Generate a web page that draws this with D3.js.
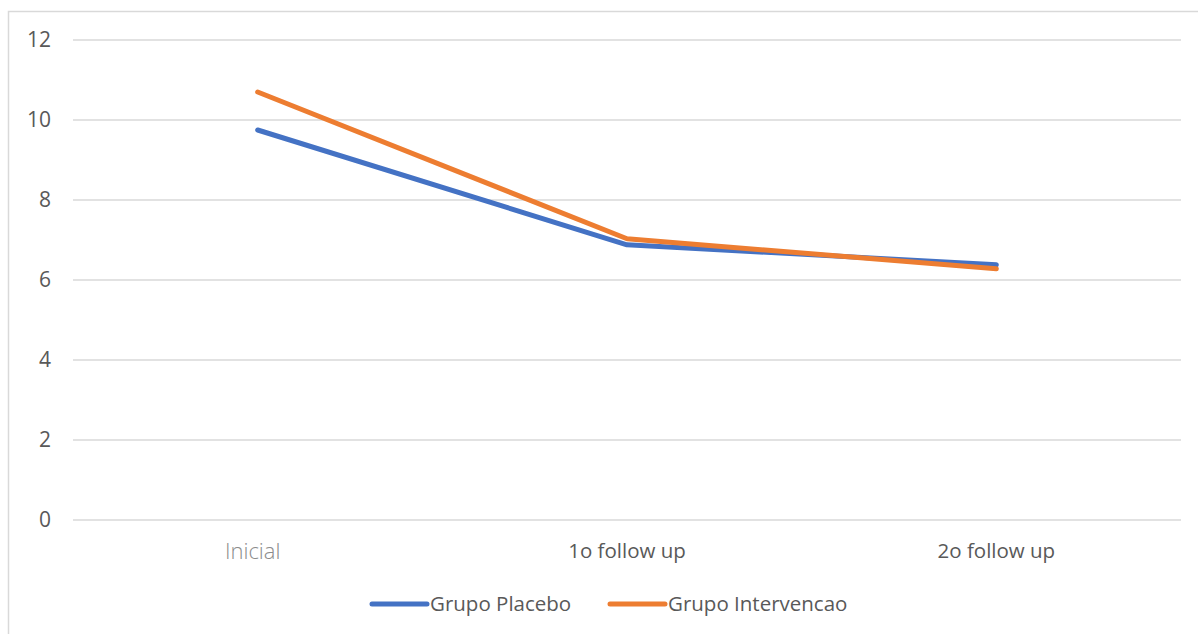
<!DOCTYPE html>
<html><head><meta charset="utf-8">
<script src="https://cdn.jsdelivr.net/npm/d3@7"></script>
<style>body{margin:0;background:#fff;}svg{display:block;}</style>
</head><body>
<svg id="c" width="1198" height="634"></svg>
<script>
const categories = ["Inicial", "1o follow up", "2o follow up"];
const placebo = [9.75, 6.88, 6.38];
const intervencao = [10.7, 7.03, 6.28];
const yTicks = [0, 2, 4, 6, 8, 10, 12];
const seriesNames = ["Grupo Placebo", "Grupo Intervencao"];
const colors = ["#4472C4", "#ED7D31"];

const svg = d3.select("#c");
const font = "'Open Sans', 'Noto Sans', sans-serif";
// chart border
svg.append("rect").attr("x", 8.5).attr("y", 11.5).attr("width", 1200).attr("height", 640)
  .attr("fill", "none").attr("stroke", "#d9d9d9").attr("stroke-width", 1.5);

const x = d3.scaleBand().domain(categories).range([73, 1181]);
const y = d3.scaleLinear().domain([0, 12]).range([520, 40]);

const grid = svg.append("g");
grid.selectAll("line").data(yTicks).join("line")
  .attr("x1", 73).attr("x2", 1181)
  .attr("y1", d => y(d)).attr("y2", d => y(d))
  .attr("stroke", "#d9d9d9").attr("stroke-width", 1.5);

const yAxis = svg.append("g").attr("transform", "translate(51,0)")
  .call(d3.axisLeft(y).tickValues(yTicks).tickSize(0).tickPadding(0));
yAxis.select(".domain").remove();
yAxis.selectAll("text").attr("font-family", font).attr("font-size", 21).attr("fill", "#595959");

const xAxis = svg.append("g").attr("transform", "translate(0,520)")
  .call(d3.axisBottom(x).tickSize(0).tickPadding(25));
xAxis.select(".domain").remove();
xAxis.selectAll("text").attr("font-family", font)
  .attr("font-size", (d, i) => i === 0 ? 22 : 20.5)
  .attr("fill", (d, i) => i === 0 ? "#8c8c8c" : "#595959")
  .attr("font-weight", (d, i) => i === 0 ? 300 : 400)
  .attr("dx", (d, i) => i === 0 ? -5 : 0)
  .attr("dy", (d, i) => i === 0 ? "0.62em" : "0.65em");

const line = d3.line().x((d, i) => x(categories[i]) + x.bandwidth() / 2).y(d => y(d));
[placebo, intervencao].forEach((s, k) => {
  svg.append("path").datum(s).attr("d", line).attr("fill", "none")
    .attr("stroke", colors[k]).attr("stroke-width", 5)
    .attr("stroke-linecap", "round").attr("stroke-linejoin", "round");
});

const legend = svg.append("g").attr("transform", "translate(0,604)");
const legendX = [372, 610];
seriesNames.forEach((n, k) => {
  const g = legend.append("g").attr("transform", `translate(${legendX[k]},0)`);
  g.append("line").attr("x1", 0).attr("x2", 55).attr("stroke", colors[k])
    .attr("stroke-width", 5).attr("stroke-linecap", "round");
  g.append("text").attr("x", 58).attr("dy", "0.35em").text(n)
    .attr("font-family", font).attr("font-size", 20.5).attr("fill", "#595959");
});
</script>
</body></html>
